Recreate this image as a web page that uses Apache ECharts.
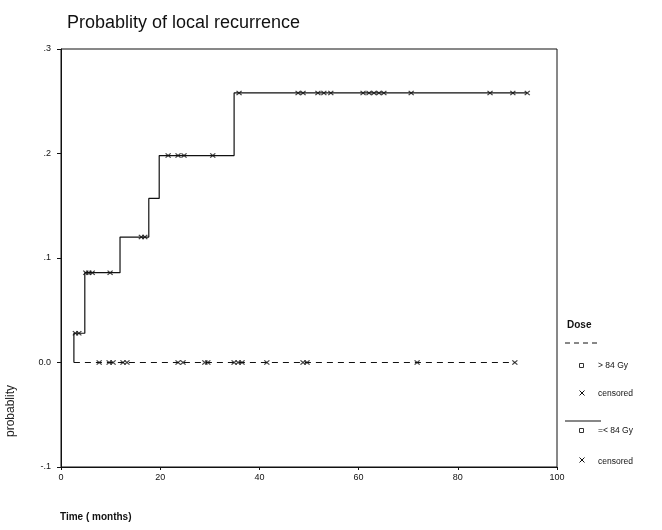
<!DOCTYPE html>
<html>
<head>
<meta charset="utf-8">
<script src="https://cdn.jsdelivr.net/npm/echarts@6/dist/echarts.min.js"></script>
<style>
  html, body { margin: 0; padding: 0; background: #fff; }
  #chart { width: 662px; height: 530px; }
</style>
</head>
<body>
<div id="chart"></div>
<script>
// tick labels
const xTicks = [0, 20, 40, 60, 80, 100];
const yTickLabels = ['-.1', '0.0', '.1', '.2', '.3'];

// =< 84 Gy (solid): event times and cumulative probability after each event
const lowTimes = [2.6, 4.8, 11.9, 17.7, 19.8, 34.9];
const lowProb = [0.028, 0.086, 0.120, 0.157, 0.198, 0.258];
const lowEnd = 94.0;
const lowCensored = [2.9, 3.6, 5.0, 5.6, 6.3, 9.9, 16.2, 16.9, 21.6, 23.6, 24.8, 30.6,
  35.9, 47.8, 48.8, 51.8, 53.0, 54.4, 60.9, 62.1, 63.1, 64.1, 65.1, 70.6, 86.5, 91.1, 94.0];

// > 84 Gy (dashed): no events
const highStart = 2.6;
const highEnd = 91.5;
const highLevel = 0.0;
const highCensored = [7.7, 9.7, 10.5, 12.5, 13.3, 23.6, 24.6, 29.0, 29.6, 34.9, 35.7, 36.5,
  41.5, 48.8, 49.6, 71.8, 91.5];

// step curve value at time t
function levelAt(t) {
  let p = 0;
  lowTimes.forEach((s, i) => { if (t >= s) p = lowProb[i]; });
  return p;
}

const lowLine = [[lowTimes[0], 0]];
lowTimes.forEach((t, i) => lowLine.push([t, lowProb[i]]));
lowLine.push([lowEnd, lowProb[lowProb.length - 1]]);

const cross = 'path://M0,1.5L1.5,0L5,3.5L8.5,0L10,1.5L6.5,5L10,8.5L8.5,10L5,6.5L1.5,10L0,8.5L3.5,5Z';
const font = 'Liberation Sans, Arial, sans-serif';

// small x mark for the legend
function legendCross(cx, cy) {
  return [
    { type: 'line', shape: { x1: cx - 2.5, y1: cy - 2.5, x2: cx + 2.5, y2: cy + 2.5 },
      style: { stroke: '#111', lineWidth: 1 } },
    { type: 'line', shape: { x1: cx + 2.5, y1: cy - 2.5, x2: cx - 2.5, y2: cy + 2.5 },
      style: { stroke: '#111', lineWidth: 1 } }
  ];
}

const chart = echarts.init(document.getElementById('chart'));

const option = {
  backgroundColor: '#fff',
  animation: false,
  title: {
    text: 'Probablity of local recurrence',
    left: 62, top: 9,
    textStyle: { fontFamily: font, fontSize: 18, fontWeight: 'normal', color: '#111' }
  },
  grid: {
    left: 61, right: 105, top: 49, bottom: 63,
    show: true, borderColor: '#111', borderWidth: 1
  },
  xAxis: {
    type: 'value', min: 0, max: 100, interval: 20,
    axisLine: { show: true, onZero: false, lineStyle: { color: '#111' } },
    axisTick: { show: true, length: 3, lineStyle: { color: '#111' } },
    splitLine: { show: false },
    axisLabel: {
      fontFamily: font, fontSize: 9, color: '#111', margin: 6,
      formatter: v => xTicks.indexOf(v) >= 0 ? String(v) : ''
    }
  },
  yAxis: {
    type: 'value', min: -0.1, max: 0.3, interval: 0.1,
    axisLine: { show: true, onZero: false, lineStyle: { color: '#111' } },
    axisTick: { show: true, length: 4, lineStyle: { color: '#111' } },
    splitLine: { show: false },
    axisLabel: {
      fontFamily: font, fontSize: 9, color: '#111', margin: 10,
      formatter: v => yTickLabels[Math.round(v * 10) + 1]
    }
  },
  series: [
    {
      name: '=< 84 Gy', type: 'line', step: 'end', data: lowLine,
      symbol: 'none', lineStyle: { color: '#111', width: 1.2 }
    },
    {
      name: '> 84 Gy', type: 'line',
      data: [[highStart, highLevel], [highEnd, highLevel]],
      symbol: 'none', lineStyle: { color: '#111', width: 1, type: [6, 5] }
    },
    {
      name: 'censored low', type: 'scatter', symbol: cross, symbolSize: [6, 5],
      itemStyle: { color: '#111' },
      data: lowCensored.map(t => [t, levelAt(t)])
    },
    {
      name: 'censored high', type: 'scatter', symbol: cross, symbolSize: [6, 5],
      itemStyle: { color: '#111' },
      data: highCensored.map(t => [t, highLevel])
    }
  ],
  graphic: [
    { type: 'text', x: 5, y: 437, rotation: Math.PI / 2,
      style: { text: 'probablity', font: '12px ' + font, fill: '#222' } },
    { type: 'text', x: 60, y: 512,
      style: { text: 'Time ( months)', font: 'bold 10px ' + font, fill: '#111' } },
    // legend
    { type: 'text', x: 567, y: 320,
      style: { text: 'Dose', font: 'bold 10px ' + font, fill: '#111' } },
    { type: 'line', shape: { x1: 565, y1: 343, x2: 601, y2: 343 },
      style: { stroke: '#111', lineWidth: 1, lineDash: [5, 4] } },
    { type: 'rect', shape: { x: 579.5, y: 363.5, width: 4, height: 4 },
      style: { fill: 'none', stroke: '#333', lineWidth: 1 } },
    { type: 'text', x: 598, y: 361,
      style: { text: '> 84 Gy', font: '8.5px ' + font, fill: '#111' } },
    ...legendCross(582, 393),
    { type: 'text', x: 598, y: 389,
      style: { text: 'censored', font: '8.5px ' + font, fill: '#111' } },
    { type: 'line', shape: { x1: 565, y1: 421, x2: 601, y2: 421 },
      style: { stroke: '#111', lineWidth: 1.2 } },
    { type: 'rect', shape: { x: 579.5, y: 428.5, width: 4, height: 4 },
      style: { fill: 'none', stroke: '#333', lineWidth: 1 } },
    { type: 'text', x: 598, y: 426,
      style: { text: '=< 84 Gy', font: '8.5px ' + font, fill: '#111' } },
    ...legendCross(582, 460),
    { type: 'text', x: 598, y: 457,
      style: { text: 'censored', font: '8.5px ' + font, fill: '#111' } }
  ]
};

chart.setOption(option);
</script>
</body>
</html>
